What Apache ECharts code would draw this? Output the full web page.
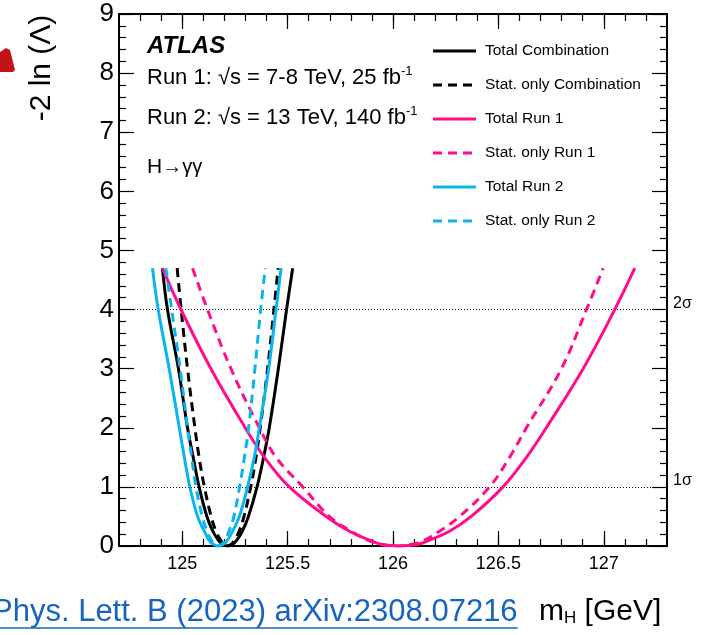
<!DOCTYPE html>
<html>
<head>
<meta charset="utf-8">
<script src="https://cdn.jsdelivr.net/npm/echarts@6/dist/echarts.min.js"></script>
<style>
  html, body { margin: 0; padding: 0; background: #ffffff; }
  #chart { width: 704px; height: 635px; }
</style>
</head>
<body>
<div id="chart"></div>
<script>
// Axis ticks and labels
const xMajorTicks = [125, 125.5, 126, 126.5, 127];
const xMinorTicks = [124.8, 124.9, 125.0, 125.1, 125.2, 125.3, 125.4, 125.5, 125.6, 125.7, 125.8, 125.9,
                     126.0, 126.1, 126.2, 126.3, 126.4, 126.5, 126.6, 126.7, 126.8, 126.9, 127.0, 127.1, 127.2];
const sigmaLevels = [1, 4];
const sigmaLabels = ['1σ', '2σ'];

// Legend entries
const seriesNames = ['Total Combination', 'Stat. only Combination', 'Total Run 1',
                     'Stat. only Run 1', 'Total Run 2', 'Stat. only Run 2'];

// -2 ln(Lambda) scans: [m_H (GeV), value]
const totalComb = [[124.906, 4.7], [124.930, 4.0], [124.982, 3.0], [125.025, 2.0], [125.052, 1.5],
  [125.080, 1.0], [125.117, 0.5], [125.145, 0.25], [125.171, 0.1], [125.191, 0.03], [125.215, 0],
  [125.239, 0.03], [125.259, 0.1], [125.285, 0.25], [125.314, 0.5],
  [125.355, 1.0], [125.386, 1.5], [125.413, 2.0], [125.456, 3.0], [125.495, 4.0], [125.524, 4.7]];
const statComb = [[124.976, 4.7], [124.995, 4.0], [125.025, 3.0], [125.060, 2.0], [125.080, 1.5],
  [125.105, 1.0], [125.137, 0.5], [125.160, 0.25], [125.182, 0.1], [125.197, 0.03], [125.215, 0],
  [125.233, 0.03], [125.248, 0.1], [125.270, 0.25], [125.293, 0.5],
  [125.325, 1.0], [125.350, 1.5], [125.370, 2.0], [125.405, 3.0], [125.435, 4.0], [125.455, 4.7]];
const totalRun1 = [[124.906, 4.7], [124.994, 4.0], [125.136, 3.0], [125.299, 2.0], [125.390, 1.5],
  [125.508, 1.0], [125.683, 0.5], [125.793, 0.25], [125.888, 0.1], [125.942, 0.03], [126.030, 0],
  [126.118, 0.03], [126.173, 0.1],
  [126.268, 0.25], [126.371, 0.5], [126.522, 1.0], [126.633, 1.5], [126.727, 2.0], [126.902, 3.0],
  [127.052, 4.0], [127.147, 4.7]];
const statRun1 = [[125.049, 4.7], [125.120, 4.0], [125.231, 3.0], [125.366, 2.0], [125.445, 1.5],
  [125.572, 1.0], [125.698, 0.5], [125.801, 0.25], [125.880, 0.1], [125.938, 0.03], [126.015, 0],
  [126.092, 0.03], [126.150, 0.1],
  [126.221, 0.25], [126.316, 0.5], [126.458, 1.0], [126.553, 1.5], [126.633, 2.0], [126.799, 3.0],
  [126.918, 4.0], [126.997, 4.7]];
const totalRun2 = [[124.859, 4.7], [124.886, 4.0], [124.938, 3.0], [124.986, 2.0], [125.010, 1.5],
  [125.036, 1.0], [125.073, 0.5], [125.105, 0.25], [125.127, 0.1], [125.147, 0.03], [125.171, 0],
  [125.195, 0.03], [125.215, 0.1], [125.239, 0.25], [125.271, 0.5],
  [125.310, 1.0], [125.342, 1.5], [125.366, 2.0], [125.410, 3.0], [125.445, 4.0], [125.469, 4.7]];
const statRun2 = [[124.922, 4.7], [124.950, 4.0], [124.990, 3.0], [125.025, 2.0], [125.045, 1.5],
  [125.065, 1.0], [125.095, 0.5], [125.118, 0.25], [125.137, 0.1], [125.152, 0.03], [125.170, 0],
  [125.188, 0.03], [125.203, 0.1], [125.222, 0.25], [125.245, 0.5],
  [125.272, 1.0], [125.295, 1.5], [125.315, 2.0], [125.345, 3.0], [125.372, 4.0], [125.394, 4.7]];

const BLACK = '#000000';
const PINK = '#ff0d8c';
const CYAN = '#0ab4f0';
const DASH = [9, 6];
const FONT = '"Liberation Sans", Arial, Helvetica, sans-serif';

const curves = [
  { data: totalComb, color: BLACK, type: 'solid' },
  { data: statComb,  color: BLACK, type: DASH },
  { data: totalRun1, color: PINK,  type: 'solid' },
  { data: statRun1,  color: PINK,  type: DASH },
  { data: totalRun2, color: CYAN,  type: 'solid' },
  { data: statRun2,  color: CYAN,  type: DASH }
];

const chart = echarts.init(document.getElementById('chart'), null, { renderer: 'canvas' });

const X_MIN = 124.7, X_MAX = 127.3, Y_MIN = 0, Y_MAX = 9;
const axisLine = { show: true, lineStyle: { color: BLACK, width: 2 } };

function xAxisDef(position, ticks, len, withLabels, withLine) {
  return {
    type: 'value', position: position, min: X_MIN, max: X_MAX,
    axisLine: withLine ? axisLine : { show: false },
    axisTick: { show: true, inside: true, length: len, customValues: ticks,
                lineStyle: { color: BLACK, width: 1.2 } },
    axisLabel: withLabels
      ? { show: true, customValues: ticks, color: BLACK, fontSize: 18, fontFamily: FONT, margin: 9 }
      : { show: false },
    splitLine: { show: false }, minorTick: { show: false }
  };
}
function yAxisDef(position, withLabels) {
  return {
    type: 'value', position: position, min: Y_MIN, max: Y_MAX, interval: 1,
    axisLine: axisLine,
    axisTick: { show: true, inside: true, length: 15, lineStyle: { color: BLACK, width: 1.2 } },
    minorTick: { show: true, splitNumber: 5, length: 7, lineStyle: { color: BLACK, width: 1.2 } },
    axisLabel: withLabels
      ? { show: true, color: BLACK, fontSize: 26, fontFamily: FONT, margin: 5 }
      : { show: false },
    splitLine: { show: false }
  };
}

// Legend block drawn by hand
const legendX = 433, legendTop = 51, legendStep = 34;
const legendGraphics = [];
curves.forEach(function (c, i) {
  const y = legendTop + i * legendStep;
  legendGraphics.push({
    type: 'line', shape: { x1: legendX, y1: y, x2: legendX + 43, y2: y },
    style: { stroke: c.color, lineWidth: 3, lineDash: c.type === 'solid' ? null : DASH }
  });
  legendGraphics.push({
    type: 'text', x: legendX + 52, y: y,
    style: { text: seriesNames[i], fill: BLACK, font: '15.5px ' + FONT, verticalAlign: 'middle', align: 'left' }
  });
});

// Citation line width for its underline
const citation = 'Phys. Lett. B (2023) arXiv:2308.07216';
const citeFontSize = 31;
const citeX = -8;
const measureCtx = document.createElement('canvas').getContext('2d');
measureCtx.font = citeFontSize + 'px ' + FONT;
const citeWidth = measureCtx.measureText(citation).width;

const textGraphics = [
  { type: 'text', x: 42, y: 68, rotation: Math.PI / 2,
    style: { text: '-2 ln (Λ)', fill: BLACK, font: '30px ' + FONT, align: 'center', verticalAlign: 'middle' } },
  { type: 'text', x: 147, y: 46,
    style: { text: 'ATLAS', fill: BLACK, font: 'italic bold 24px ' + FONT, verticalAlign: 'middle' } },
  { type: 'text', x: 147, y: 78,
    style: { text: '{a|Run 1: √s = 7-8 TeV, 25 fb}{s|-1}', verticalAlign: 'middle',
      rich: { a: { fontSize: 22, fontFamily: FONT, fill: BLACK },
              s: { fontSize: 13, fontFamily: FONT, fill: BLACK, padding: [0, 0, 13, 0] } } } },
  { type: 'text', x: 147, y: 118,
    style: { text: '{a|Run 2: √s = 13 TeV, 140 fb}{s|-1}', verticalAlign: 'middle',
      rich: { a: { fontSize: 22, fontFamily: FONT, fill: BLACK },
              s: { fontSize: 13, fontFamily: FONT, fill: BLACK, padding: [0, 0, 13, 0] } } } },
  { type: 'text', x: 147, y: 167,
    style: { text: '{a|H}{b|→γγ}', verticalAlign: 'middle',
      rich: { a: { fontSize: 21, fontFamily: FONT, fill: BLACK },
              b: { fontSize: 20, fontFamily: FONT, fill: BLACK } } } },
  { type: 'text', x: citeX, y: 612,
    style: { text: citation, fill: '#1565c0', font: citeFontSize + 'px ' + FONT, verticalAlign: 'middle' } },
  { type: 'line', shape: { x1: 0, y1: 628, x2: citeX + citeWidth, y2: 628 },
    style: { stroke: '#1565c0', lineWidth: 1.5 } },
  { type: 'text', x: 539, y: 612,
    style: { text: '{m|m}{h|H}{m| [GeV]}', verticalAlign: 'middle',
      rich: { m: { fontSize: 30, fontFamily: FONT, fill: BLACK },
              h: { fontSize: 17, fontFamily: FONT, fill: BLACK, padding: [12, 0, 0, 0] } } } },
  { type: 'polygon',
    shape: { points: [[0, 52], [6, 48], [10, 50], [15, 70], [13, 72], [0, 72]] },
    style: { fill: '#c4121b' } }
];

const series = curves.map(function (c, i) {
  return {
    type: 'line', name: seriesNames[i], data: c.data,
    xAxisIndex: 0, yAxisIndex: 0,
    symbol: 'none', showSymbol: false, smooth: 0.4,
    lineStyle: { color: c.color, width: 3, type: c.type },
    z: 3 + i, silent: true, animation: false
  };
});

series[0].markLine = {
  silent: true, symbol: 'none', animation: false,
  lineStyle: { color: BLACK, width: 1, type: [1, 2] },
  label: { show: true, position: 'end', distance: 6, color: BLACK, fontSize: 16, fontFamily: FONT,
           offset: [0, -6] },
  data: sigmaLevels.map(function (v, i) { return { yAxis: v, label: { formatter: sigmaLabels[i] } }; })
};

chart.setOption({
  animation: false,
  backgroundColor: '#ffffff',
  grid: { left: 119, right: 37, top: 14, bottom: 89, containLabel: false, outerBoundsMode: 'none',
          show: false },
  xAxis: [
    xAxisDef('bottom', xMajorTicks, 15, true, true),
    xAxisDef('bottom', xMinorTicks, 7, false, false),
    xAxisDef('top', xMajorTicks, 15, false, true),
    xAxisDef('top', xMinorTicks, 7, false, false)
  ],
  yAxis: [yAxisDef('left', true), yAxisDef('right', false)],
  series: series,
  graphic: legendGraphics.concat(textGraphics)
});
</script>
</body>
</html>
